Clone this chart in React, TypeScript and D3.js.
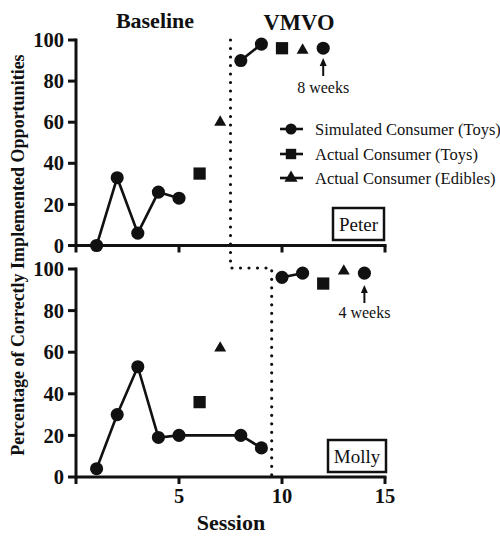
import React from 'react';
import * as d3 from 'd3';

// Peter
const peterBaseSessions = [1, 2, 3, 4, 5];
const peterBaseValues = [0, 33, 6, 26, 23];
const peterTreatSessions = [8, 9];
const peterTreatValues = [90, 98];
const peterFollowSessions = [12];
const peterFollowValues = [96];
const peterToySessions = [6, 10];
const peterToyValues = [35, 96];
const peterEdibleSessions = [7, 11];
const peterEdibleValues = [60, 95];

// Molly
const mollyBaseSessions = [1, 2, 3, 4, 5, 8, 9];
const mollyBaseValues = [4, 30, 53, 19, 20, 20, 14];
const mollyTreatSessions = [10, 11];
const mollyTreatValues = [96, 98];
const mollyFollowSessions = [14];
const mollyFollowValues = [98];
const mollyToySessions = [6, 12];
const mollyToyValues = [36, 93];
const mollyEdibleSessions = [7, 13];
const mollyEdibleValues = [62, 99];

const yTicks = [0, 20, 40, 60, 80, 100];
const xTicks = [0, 5, 10, 15];
const xTickLabels = ['5', '10', '15'];
const legendLabels = [
  'Simulated Consumer (Toys)',
  'Actual Consumer (Toys)',
  'Actual Consumer (Edibles)',
];

const phaseChangePeter = 7.5;
const phaseChangeMolly = 9.5;

const W = 500;
const H = 536;
const font = 'Liberation Serif';

const x = d3.scaleLinear().domain([0, 15]).range([76, 385]);
const yTop = d3.scaleLinear().domain([0, 100]).range([245.5, 40]);
const yBot = d3.scaleLinear().domain([0, 100]).range([477, 269]);

const circle = d3.symbol(d3.symbolCircle, 135)();
const square = d3.symbol(d3.symbolSquare, 150)();
const triangle = d3.symbol(d3.symbolTriangle, 62)();

const zip = (s: number[], v: number[]) => s.map((d, i) => [d, v[i]] as [number, number]);

type PanelProps = {
  y: d3.ScaleLinear<number, number>;
  base: [number, number][];
  treat: [number, number][];
  follow: [number, number][];
  toys: [number, number][];
  edibles: [number, number][];
  labels: boolean;
};

const Panel = ({ y, base, treat, follow, toys, edibles, labels }: PanelProps) => {
  const line = d3.line<[number, number]>().x((d) => x(d[0])).y((d) => y(d[1]));
  const sym = (path: string, pts: [number, number][]) =>
    pts.map((d, i) => (
      <path key={i} d={path} transform={`translate(${x(d[0])},${y(d[1])})`} fill="#111" />
    ));
  return (
    <g>
      <path d={line(base) || ''} fill="none" stroke="#111" strokeWidth={2.6} />
      <path d={line(treat) || ''} fill="none" stroke="#111" strokeWidth={2.6} />
      {sym(circle, base)}
      {sym(circle, treat)}
      {sym(circle, follow)}
      {sym(square, toys)}
      {sym(triangle, edibles)}
      {/* axes */}
      <line x1={x(0)} x2={x(0)} y1={y(100) - 1.5} y2={y(0) + 1.5} stroke="#111" strokeWidth={3} />
      <line x1={x(0)} x2={x(15) + 1.5} y1={y(0)} y2={y(0)} stroke="#111" strokeWidth={3} />
      {yTicks.map((t) => (
        <g key={t}>
          <line x1={x(0) - 8} x2={x(0)} y1={y(t)} y2={y(t)} stroke="#111" strokeWidth={3} />
          <text
            x={x(0) - 12}
            y={y(t)}
            dy="0.35em"
            textAnchor="end"
            fontFamily={font}
            fontWeight="bold"
            fontSize={20.5}
            fill="#111"
          >
            {t}
          </text>
        </g>
      ))}
      {xTicks.map((t) => (
        <line key={t} x1={x(t)} x2={x(t)} y1={y(0)} y2={y(0) + 7} stroke="#111" strokeWidth={3} />
      ))}
      {labels &&
        xTickLabels.map((t) => (
          <text
            key={t}
            x={x(+t)}
            y={y(0) + 26}
            textAnchor="middle"
            fontFamily={font}
            fontWeight="bold"
            fontSize={20.5}
            fill="#111"
          >
            {t}
          </text>
        ))}
    </g>
  );
};

const Arrow = ({ cx, top, bottom }: { cx: number; top: number; bottom: number }) => (
  <g>
    <line x1={cx} x2={cx} y1={top + 5} y2={bottom} stroke="#111" strokeWidth={2} />
    <path d={`M${cx},${top} L${cx - 3.5},${top + 8} L${cx + 3.5},${top + 8} Z`} fill="#111" />
  </g>
);

export default function App() {
  const legendMarks = [circle, square, triangle];
  const legendY = [129, 154, 178];
  return (
    <svg
      width={W}
      height={H}
      style={{ position: 'absolute', left: 0, top: 0, background: '#fff' }}
    >
      <text x={155} y={28} textAnchor="middle" fontFamily={font} fontWeight="bold" fontSize={22} fill="#111">
        Baseline
      </text>
      <text x={299} y={30} textAnchor="middle" fontFamily={font} fontWeight="bold" fontSize={22.5} fill="#111">
        VMVO
      </text>

      <Panel
        y={yTop}
        base={zip(peterBaseSessions, peterBaseValues)}
        treat={zip(peterTreatSessions, peterTreatValues)}
        follow={zip(peterFollowSessions, peterFollowValues)}
        toys={zip(peterToySessions, peterToyValues)}
        edibles={zip(peterEdibleSessions, peterEdibleValues)}
        labels={false}
      />
      <Panel
        y={yBot}
        base={zip(mollyBaseSessions, mollyBaseValues)}
        treat={zip(mollyTreatSessions, mollyTreatValues)}
        follow={zip(mollyFollowSessions, mollyFollowValues)}
        toys={zip(mollyToySessions, mollyToyValues)}
        edibles={zip(mollyEdibleSessions, mollyEdibleValues)}
        labels={true}
      />

      {/* phase change line */}
      <path
        d={`M${x(phaseChangePeter)},${yTop(100)} V${yBot(100) - 1} H${x(phaseChangeMolly)} V${yBot(0)}`}
        fill="none"
        stroke="#111"
        strokeWidth={3.2}
        strokeDasharray="0 8.5"
        strokeLinecap="round"
      />

      {/* follow-up annotations */}
      <Arrow cx={x(12)} top={58} bottom={76} />
      <text x={x(12)} y={93} textAnchor="middle" fontFamily={font} fontSize={16} fill="#111">
        8 weeks
      </text>
      <Arrow cx={x(14)} top={285} bottom={303} />
      <text x={x(14)} y={318} textAnchor="middle" fontFamily={font} fontSize={16} fill="#111">
        4 weeks
      </text>

      {/* legend */}
      {legendLabels.map((l, i) => (
        <g key={l} transform={`translate(291,${legendY[i]})`}>
          <line x1={-11} x2={12} y1={0} y2={0} stroke="#111" strokeWidth={2.6} />
          <path d={legendMarks[i]} fill="#111" transform={i === 2 ? 'scale(1.1)' : 'scale(0.85)'} />
          <text x={24} y={0} dy="0.35em" fontFamily={font} fontSize={16.5} fill="#111">
            {l}
          </text>
        </g>
      ))}

      {/* name boxes */}
      <rect x={333} y={208} width={51} height={32} fill="#fff" stroke="#111" strokeWidth={2.5} />
      <text x={358.5} y={224} dy="0.35em" textAnchor="middle" fontFamily={font} fontSize={19} fill="#111">
        Peter
      </text>
      <rect x={328} y={440} width={58} height={32} fill="#fff" stroke="#111" strokeWidth={2.5} />
      <text x={357} y={456} dy="0.35em" textAnchor="middle" fontFamily={font} fontSize={19} fill="#111">
        Molly
      </text>

      {/* axis titles */}
      <text
        transform="translate(24,255) rotate(-90)"
        textAnchor="middle"
        fontFamily={font}
        fontWeight="bold"
        fontSize={18}
        fill="#111"
      >
        Percentage of Correctly Implemented Opportunities
      </text>
      <text x={231} y={530} textAnchor="middle" fontFamily={font} fontWeight="bold" fontSize={22} fill="#111">
        Session
      </text>
    </svg>
  );
}
